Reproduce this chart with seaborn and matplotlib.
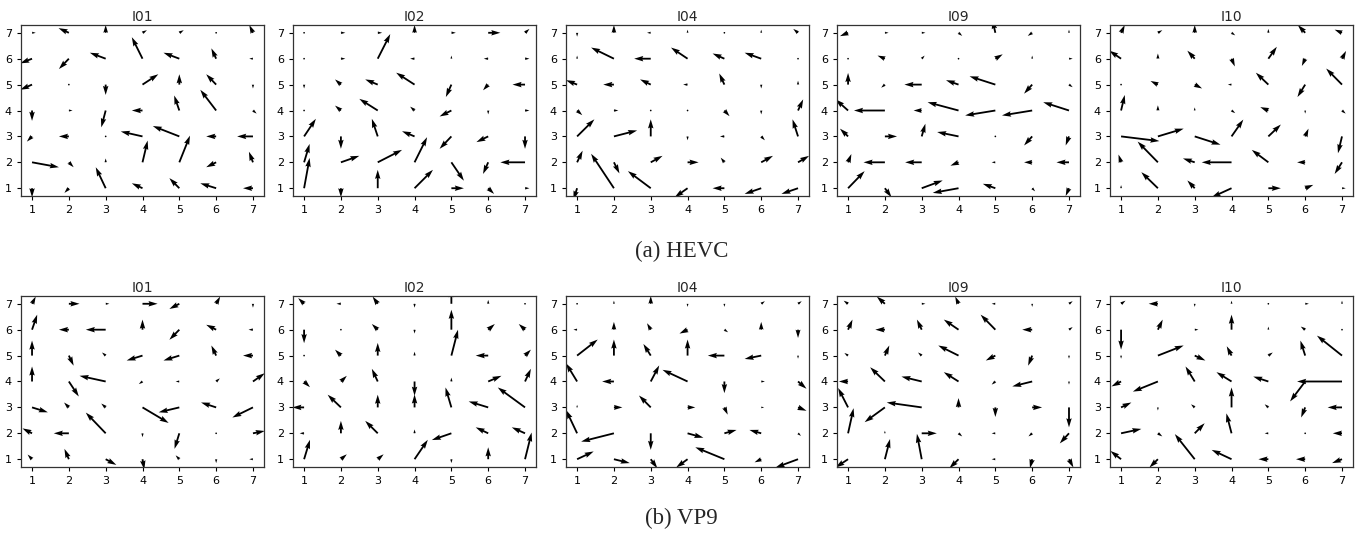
import numpy as np
import matplotlib
matplotlib.use("Agg")
import matplotlib.pyplot as plt
import seaborn as sns

# grid of block positions (1..7 in x and y)
grid = [1, 2, 3, 4, 5, 6, 7]
sequences = ["I01", "I02", "I04", "I09", "I10"]

# motion vectors per panel, rows listed from y=7 (top) down to y=1
hevc_i01_u = [[0.1, -0.28, 0, 0.12, 0.12, 0, -0.1],
              [-0.32, -0.27, -0.43, -0.29, -0.43, -0.13, -0.1],
              [-0.32, 0, 0, 0.43, 0, -0.27, 0],
              [0, 0.1, -0.12, -0.29, -0.14, -0.43, 0.1],
              [-0.14, -0.27, 0, -0.59, -0.72, -0.27, -0.43],
              [0.73, 0.13, 0, 0.14, 0.29, -0.27, -0.11],
              [0, -0.12, -0.27, -0.29, -0.27, -0.43, -0.27]]
hevc_i01_v = [[0, 0.18, 0.3, 0.1, 0.1, 0, 0.3],
              [-0.18, -0.4, 0.23, 0.83, 0.23, 0.4, 0],
              [-0.2, 0, -0.4, 0.4, 0.4, 0.4, -0.15],
              [-0.4, 0, -0.65, 0, 0.58, 0.8, -0.12],
              [-0.2, 0, 0, 0.19, 0.4, 0, 0],
              [-0.19, -0.19, 0.15, 0.84, 1.03, -0.19, 0.41],
              [-0.35, -0.18, 0.81, 0.19, 0.39, 0.19, 0]]

hevc_i02_u = [[0, 0.12, 0.12, 0, 0.12, 0.33, 0.12],
              [0, 0.12, 0.34, -0.12, 0, -0.12, 0.12],
              [0, -0.16, -0.34, -0.5, -0.15, -0.14, -0.34],
              [0, -0.16, -0.5, -0.12, -0.32, 0, 0.12],
              [0.32, 0, -0.16, -0.34, -0.32, -0.32, 0],
              [0.15, 0.5, 0.66, 0.34, 0.34, -0.14, -0.67],
              [0.15, 0, 0, 0.5, 0.34, 0.16, 0.12]]
hevc_i02_v = [[0, 0, 0, 0.3, 0, 0, 0.15],
              [0, 0, 0.95, 0, 0.12, 0, 0],
              [-0.15, 0.2, 0.2, 0.46, -0.48, -0.22, 0],
              [0, 0.19, 0.45, 0.15, -0.23, -0.15, 0],
              [0.68, -0.48, 0.68, 0.2, -0.48, -0.22, -0.48],
              [0.71, 0.25, 0.48, 0.97, -0.71, -0.45, 0],
              [1.17, -0.35, 0.71, 0.71, 0, -0.22, 0]]

hevc_i04_u = [[0, 0, -0.1, 0, 0, 0, -0.13],
              [0, -0.62, -0.45, -0.45, -0.32, -0.45, 0],
              [-0.3, -0.29, -0.29, -0.12, -0.14, 0, 0],
              [0.14, 0.12, 0, 0, 0.14, 0, 0.14],
              [0.47, 0.63, 0, 0, -0.12, 0.1, -0.15],
              [0.15, 0.15, 0.32, 0.3, -0.1, 0.32, 0.3],
              [-0.1, -0.62, -0.62, -0.35, -0.32, -0.45, -0.45]]
hevc_i04_v = [[-0.15, 0.3, 0, 0.12, 0, 0.12, 0.15],
              [0.12, 0.43, 0, 0.43, 0.2, 0.23, 0],
              [0.17, 0, 0.2, 0, 0.43, -0.15, 0.15],
              [-0.18, 0, 0, 0, -0.22, -0.15, 0.43],
              [0.66, 0.23, 0.66, -0.15, 0, -0.15, 0.66],
              [0.45, -0.43, 0.25, 0, 0.18, 0.25, 0.25],
              [-0.45, 1.33, 0.66, -0.35, 0, -0.22, -0.22]]

hevc_i09_u = [[-0.22, 0.1, 0.1, 0.1, -0.08, -0.12, 0],
              [0, -0.2, 0.08, 0, 0.2, 0, 0.1],
              [0, -0.1, -0.47, -0.34, -0.7, -0.22, 0.1],
              [-0.34, -0.84, -0.22, -0.84, -0.82, -0.82, -0.7],
              [-0.22, 0.33, 0.1, -0.58, 0, -0.22, -0.09],
              [0.09, -0.58, -0.45, -0.22, -0.1, -0.22, -0.34],
              [0.45, 0.18, 0.57, -0.7, -0.34, 0.08, -0.09]]
hevc_i09_v = [[-0.13, 0, 0, -0.12, 0.5, -0.12, 0.12],
              [0, 0.12, 0.12, 0, 0.17, 0.12, 0],
              [0.45, -0.12, 0, 0.17, 0.32, -0.35, -0.1],
              [0.43, 0, 0, 0.32, -0.19, -0.19, 0.32],
              [0.3, 0, 0.49, 0.17, 0, -0.35, -0.35],
              [0.32, 0, 0, -0.13, 0, 0, 0],
              [0.66, -0.35, 0.3, -0.18, 0.17, -0.12, -0.3]]

hevc_i10_u = [[0.1, 0.12, 0, 0.1, 0, -0.2, -0.2],
              [-0.32, 0, -0.2, 0.09, 0.23, -0.09, 0.11],
              [0, -0.2, 0.2, -0.1, -0.34, -0.21, -0.43],
              [0.1, 0, 0, 0.1, -0.22, 0, 0.1],
              [1.04, 0.7, 0.7, 0.32, 0.34, 0.09, -0.11],
              [-0.07, -0.55, -0.32, -0.81, -0.45, -0.22, -0.2],
              [0, -0.45, -0.2, -0.54, 0.34, 0.22, 0.1]]
hevc_i10_v = [[0.3, 0.1, 0.3, -0.1, 0.15, 0.3, 0.12],
              [0.31, 0.2, 0.31, -0.3, 0.46, -0.28, 0.3],
              [0, 0.14, -0.15, 0, 0.46, -0.48, 0.62],
              [0.6, 0.2, 0.12, -0.1, 0.13, -0.12, -0.12],
              [-0.18, 0.3, -0.32, 0.65, 0.46, 0.3, -0.65],
              [0.3, 0.8, 0.15, 0, 0.48, 0, -0.45],
              [0.12, 0.62, 0.3, -0.35, 0, 0.13, 0]]

vp9_i01_u = [[0.1, 0.29, 0.1, 0.41, -0.27, 0.11, 0],
             [0.14, -0.27, -0.54, 0, -0.27, -0.27, -0.12],
             [0, 0.13, -0.1, -0.43, -0.43, -0.13, -0.27],
             [0, 0.27, -0.71, -0.1, -0.1, 0.1, 0.32],
             [0.43, -0.13, -0.12, 0.71, -0.56, -0.41, -0.56],
             [-0.26, -0.41, -0.54, 0, -0.13, 0, 0.32],
             [-0.12, -0.12, 0.29, 0.05, -0.1, 0, -0.1]]
vp9_i01_v = [[0.28, 0, 0, 0, -0.2, 0.28, -0.15],
             [0.58, 0, 0, 0.39, -0.39, 0.19, 0],
             [0.58, -0.39, 0.12, -0.19, -0.19, 0.39, 0],
             [0.58, -0.58, 0.22, -0.1, 0, 0.12, 0.32],
             [-0.19, 0.19, 0.15, -0.6, -0.19, 0.19, -0.39],
             [0.19, 0, 0.8, -0.15, -0.6, 0, 0.09],
             [0.18, 0.4, -0.22, -0.4, 0.15, -0.15, 0]]

vp9_i02_u = [[-0.16, -0.12, -0.14, 0, 0, 0, 0],
             [0, 0, -0.16, 0, 0, 0.18, -0.17],
             [0, -0.16, 0, 0, 0.18, -0.34, 0.16],
             [0.16, 0.16, -0.16, 0, 0, 0.36, 0.16],
             [-0.32, -0.36, 0, 0, -0.16, -0.53, -0.74],
             [-0.12, 0, -0.34, 0, -0.53, -0.34, -0.36],
             [0.16, 0.16, 0.16, 0.36, 0, 0, 0.18]]
vp9_i02_v = [[0.22, 0, 0.28, -0.15, 0.6, 0.15, 0],
             [-0.52, 0, 0.22, -0.15, 0.77, 0.22, 0.22],
             [0, 0.23, 0.49, 0.15, 1.0, 0, 0.23],
             [-0.22, 0.22, 0.49, -0.55, 0.15, 0.22, 0.49],
             [0, 0.49, 0.49, 0.5, 0.77, 0.23, 0.77],
             [0, 0.48, 0.48, 0.15, -0.26, 0.23, 0.23],
             [0.75, 0.19, 0.19, 0.75, -0.15, 0.46, 1.03]]

vp9_i04_u = [[0, 0, 0, 0, 0, 0.1, 0.1],
             [-0.1, 0, -0.1, -0.22, 0.1, 0, 0],
             [0.56, 0, -0.2, 0, -0.45, -0.45, 0],
             [-0.3, -0.32, 0.23, -0.68, 0, 0.1, 0.23],
             [0, 0.23, -0.32, 0.21, 0.09, 0.08, 0.23],
             [-0.3, -0.89, 0, 0.43, 0.33, -0.32, 0.08],
             [0.45, 0.43, 0.18, -0.31, -0.79, -0.18, -0.61]]
vp9_i04_v = [[0, 0.12, 0.3, -0.12, -0.12, 0.1, 0.1],
             [0, 0.3, 0.25, -0.15, -0.1, 0.3, -0.32],
             [0.62, 0.62, 0.45, 0.62, 0, -0.13, -0.12],
             [0.7, 0, 0.62, 0.45, -0.45, 0, -0.28],
             [0.1, 0, 0.46, 0, -0.28, 0, -0.13],
             [0.9, -0.32, -0.64, -0.17, 0.13, 0.13, -0.1],
             [0.3, -0.15, -0.35, -0.32, 0.46, -0.12, -0.32]]

vp9_i09_u = [[-0.12, -0.22, 0.1, -0.09, -0.1, 0, 0.1],
             [0.12, -0.26, -0.13, -0.4, -0.4, -0.27, 0.1],
             [-0.1, 0.12, -0.1, -0.55, -0.26, -0.11, 0],
             [-0.25, -0.4, -0.55, -0.4, -0.1, -0.54, 0],
             [-0.27, -0.55, -0.95, 0, 0, 0.27, 0],
             [0.15, 0, 0.41, 0.1, -0.1, -0.1, -0.25],
             [-0.34, 0.14, -0.13, -0.25, -0.1, -0.06, 0.12]]
vp9_i09_v = [[0.12, 0.28, 0, 0.28, 0, -0.12, 0.1],
             [0.39, 0, 0.39, 0.39, 0.58, 0, 0.1],
             [0.1, 0.39, 0.12, 0.39, -0.19, -0.39, -0.12],
             [0, 0.55, 0.19, 0.36, -0.12, -0.19, -0.12],
             [0.75, -0.57, 0.19, 0.36, -0.37, 0, -0.77],
             [0.97, 0.1, 0, -0.12, 0, -0.12, -0.39],
             [-0.32, 0.78, 0.98, -0.35, 0, -0.35, -0.32]]

vp9_i10_u = [[0.12, -0.25, 0, 0, 0, 0.1, 0],
             [0, 0.13, 0.1, 0, 0, -0.12, 0],
             [0, 0.7, 0.29, -0.13, 0.12, -0.13, -0.68],
             [-0.26, -0.68, -0.25, -0.41, -0.41, -0.41, -1.22],
             [0.28, 0, -0.1, 0, -0.1, -0.11, -0.39],
             [0.55, 0.12, 0.27, -0.14, -0.1, 0, -0.25],
             [-0.29, -0.23, -0.54, -0.54, -0.27, -0.25, -0.27]]
vp9_i10_v = [[0.12, 0, -0.12, 0.12, 0, 0, 0.12],
             [-0.77, 0.39, 0, 0.58, 0.12, 0.12, 0],
             [-0.12, 0.39, -0.19, 0.36, 0.12, 0.58, 0.77],
             [-0.19, -0.39, 0.58, 0.36, 0.19, -0.77, 0],
             [0.19, -0.12, 0.12, 0.77, 0.12, -0.39, 0],
             [0.17, -0.12, 0.39, 0.77, 0, 0, 0],
             [0.32, -0.32, 0.97, 0.36, 0, 0, -0.15]]

hevc_fields = [(hevc_i01_u, hevc_i01_v), (hevc_i02_u, hevc_i02_v), (hevc_i04_u, hevc_i04_v),
               (hevc_i09_u, hevc_i09_v), (hevc_i10_u, hevc_i10_v)]
vp9_fields = [(vp9_i01_u, vp9_i01_v), (vp9_i02_u, vp9_i02_v), (vp9_i04_u, vp9_i04_v),
              (vp9_i09_u, vp9_i09_v), (vp9_i10_u, vp9_i10_v)]

sns.set_style("ticks", {"axes.edgecolor": "0.2", "xtick.color": "black", "ytick.color": "black"})
plt.rcParams["font.family"] = ["DejaVu Sans"]

fig = plt.figure(figsize=(13.63, 5.38), dpi=100)

X, Y = np.meshgrid(grid, grid[::-1])
lefts = [0.0154, 0.215, 0.4153, 0.6141, 0.8144]
w, h = 0.1783, 0.3178
rows = [(0.6357, hevc_fields, "(a) HEVC", 0.533), (0.132, vp9_fields, "(b) VP9", 0.036)]

for bottom, fields, caption, cap_y in rows:
    for left, name, (u, v) in zip(lefts, sequences, fields):
        ax = fig.add_axes([left, bottom, w, h])
        ax.quiver(X, Y, np.array(u), np.array(v), angles="xy", scale_units="xy",
                  scale=1, color="black")
        ax.set_xlim(0.7, 7.3)
        ax.set_ylim(0.7, 7.3)
        ax.set_xticks(grid)
        ax.set_yticks(grid)
        ax.tick_params(labelsize=8, length=3)
        ax.set_title(name, fontsize=10, pad=3)
        for s in ax.spines.values():
            s.set_linewidth(0.9)
    fig.text(0.5, cap_y, caption, ha="center", va="center", fontsize=16.5,
             family=["Liberation Serif", "DejaVu Serif"])

fig.savefig("out.png", dpi=100)
